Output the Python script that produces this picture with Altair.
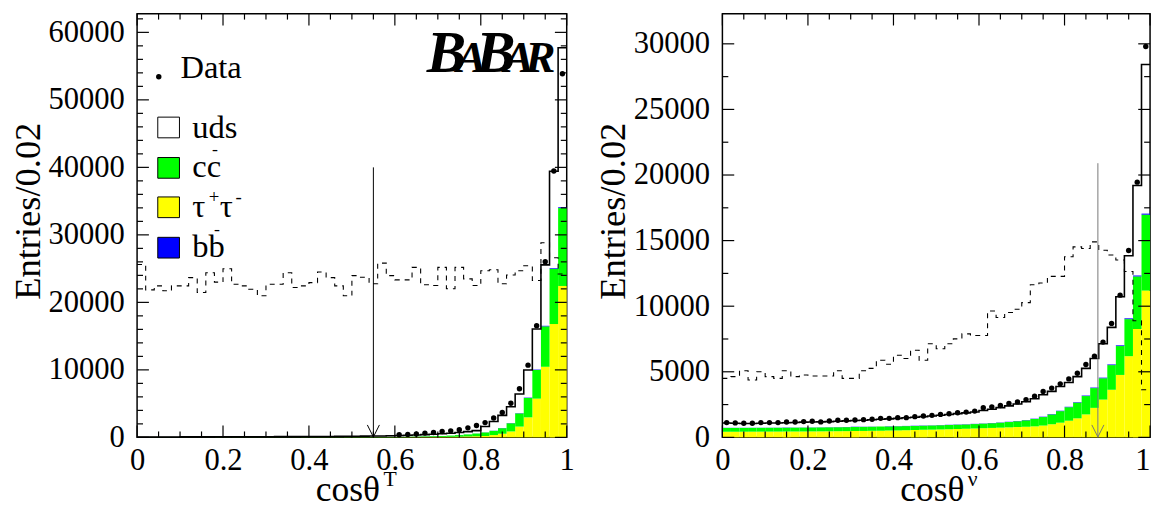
import altair as alt
import numpy as np
import pandas as pd

EDGES = [round(0.02 * i, 2) for i in range(51)]

# ---------------- left panel : cos(theta_T) ----------------
L_data = [None] * 30 + [390, 440, 490, 630, 730, 880, 970, 1120, 1410, 1750,
                        2190, 2870, 3700, 5060, 7200, 10700, 16550, 26030, 39460, 53870]
L_tau = [5, 5, 5, 5, 5, 6, 6, 6, 6, 7, 7, 7, 8, 8, 8, 9, 9, 10, 10, 11,
         12, 13, 14, 15, 16, 18, 20, 22, 24, 27, 30, 35, 40, 50, 60, 75, 90, 110, 140, 170,
         200, 340, 540, 880, 1600, 2970, 5740, 10460, 16790, 22430]
L_cc = [8, 8, 8, 9, 9, 9, 10, 10, 10, 11, 11, 12, 12, 13, 13, 14, 15, 15, 16, 17,
        18, 19, 20, 22, 23, 25, 27, 29, 32, 35, 30, 45, 60, 80, 100, 125, 170, 230, 300, 400,
        530, 630, 820, 1210, 1950, 2870, 4240, 5990, 8170, 11540]
L_bb = [1, 1, 1, 1, 1, 1, 1, 1, 1, 1, 1, 1, 1, 1, 1, 2, 2, 2, 2, 2,
        2, 2, 2, 2, 2, 3, 3, 3, 3, 3, 3, 3, 4, 4, 5, 5, 6, 7, 8, 10,
        15, 20, 25, 30, 40, 50, 60, 80, 100, 120]
L_total = [60, 62, 64, 66, 68, 70, 72, 75, 78, 80, 83, 86, 90, 94, 98, 102, 106, 110, 115, 120,
           126, 132, 140, 150, 160, 170, 182, 195, 210, 240, 280, 320, 360, 410, 470, 540, 620, 720, 850, 1000,
           1600, 2340, 3260, 4530, 6420, 9980, 16060, 25550, 39420, 57710]
L_sig = [25600, 21850, 22440, 21710, 22440, 22440, 23660, 21460, 24390, 23000,
         24980, 22680, 22440, 21950, 20980, 22680, 22680, 24390, 22200, 22440,
         22930, 24490, 23660, 22440, 20980, 23960, 23720, 22750, 25810, 23960,
         23330, 23330, 25180, 22600, 22500, 25180, 22020, 25180, 23480, 22500,
         24690, 24840, 22750, 24060, 24690, 25420, 23230, 28830, 26600, 24200]
L_cut = 0.55
L_cut_top = 40000
L_ymax = 62770
L_ymajor = [0, 10000, 20000, 30000, 40000, 50000, 60000]
L_yminor = 2000

# ---------------- right panel : cos(theta_nu) ----------------
R_data = [1127, 1102, 1077, 1077, 1127, 1127, 1127, 1177, 1177, 1202,
          1227, 1180, 1252, 1302, 1302, 1327, 1352, 1377, 1452, 1452,
          1502, 1502, 1578, 1628, 1678, 1753, 1803, 1878, 1928, 2003,
          2254, 2329, 2429, 2579, 2704, 2880, 3130, 3506, 3756, 4082,
          4457, 4883, 5559, 6185, 7262, 8689, 10842, 14248, 19456, 29798]
R_total = [1090, 1080, 1060, 1060, 1080, 1090, 1100, 1120, 1140, 1160,
           1170, 1180, 1200, 1230, 1260, 1280, 1310, 1340, 1380, 1410,
           1450, 1490, 1530, 1580, 1630, 1690, 1750, 1810, 1870, 1940,
           2050, 2150, 2270, 2400, 2550, 2720, 2940, 3255, 3506, 3881,
           4182, 4632, 5258, 6010, 7136, 8388, 10717, 13847, 19206, 28420]
R_tau = [430, 430, 432, 435, 437, 440, 442, 445, 448, 450,
         455, 460, 465, 470, 475, 480, 490, 500, 510, 520,
         530, 545, 560, 575, 590, 605, 620, 640, 660, 680,
         700, 720, 740, 765, 790, 810, 840, 900, 1000, 1120,
         1270, 1450, 1750, 2250, 2880, 3630, 4760, 6190, 8260, 11190]
R_cc = [290, 290, 290, 290, 290, 290, 290, 290, 292, 295,
        295, 297, 300, 302, 305, 310, 310, 310, 310, 312,
        315, 315, 315, 315, 315, 320, 325, 325, 330, 335,
        345, 360, 380, 405, 440, 490, 560, 650, 750, 880,
        1030, 1200, 1400, 1506, 1627, 1879, 2201, 2824, 4010, 5787]
R_bb = [10, 10, 10, 10, 10, 10, 10, 10, 10, 10,
        11, 11, 11, 11, 11, 12, 12, 12, 12, 12,
        13, 13, 13, 14, 14, 14, 15, 15, 15, 16,
        16, 17, 18, 19, 20, 22, 24, 26, 28, 30,
        32, 35, 38, 40, 45, 50, 55, 60, 70, 80]
R_sig = [4500, 4630, 5080, 4380, 5000, 4630, 4500, 5080, 4630, 4760,
         4680, 4680, 4680, 5080, 4500, 4500, 5080, 5260, 5880, 5580,
         6260, 6010, 6640, 5880, 7140, 6760, 7140, 7510, 7890, 7760,
         7760, 9640, 9140, 9520, 9770, 10270, 11640, 11770, 12270, 12270,
         13770, 14520, 14400, 14900, 14270, 13900, 13520, 12650, 8890, 3630]
R_cut = 0.878
R_cut_top = 20900
R_ymax = 32300
R_ymajor = [0, 5000, 10000, 15000, 20000, 25000, 30000]
R_yminor = 2500

X_major = [0, 0.2, 0.4, 0.6, 0.8, 1]
X_minor = 0.05

COLORS = {"tau": "#ffff00", "cc": "#00ff00", "bb": "#0000ff", "uds": "#ffffff"}

FONT = "Liberation Serif"
H = 430
W_L, W_R = 436, 434
ONE = pd.DataFrame({"a": [0]})


def px_text(txt, x, y, size, align="left", weight="normal", style="normal", color="black"):
    return alt.Chart(ONE).mark_text(text=txt, font=FONT, fontSize=size, align=align,
                                    baseline="alphabetic", fontWeight=weight,
                                    fontStyle=style, color=color).encode(
        x=alt.value(x), y=alt.value(y))


def panel(tau, cc, bb, total, data, sig, ymax, ymajor, yminor, cut, cut_top,
          cut_color, W, sup, legend, last_label_right=False):
    xs = alt.Scale(domain=[0, 1], nice=False, zero=False)
    ys = alt.Scale(domain=[0, ymax], nice=False)
    xaxis_kw = dict(values=X_major, format="~g", ticks=False, domain=False, grid=False,
                    labelFont=FONT, labelFontSize=31, labelColor="black", labelPadding=9,
                    labelFlush=False, labelOverlap=False, title=None)
    if last_label_right:
        xaxis_kw["labelAlign"] = {"condition": {"test": "datum.value == 1", "value": "right"},
                                  "value": "center"}
    xaxis = alt.Axis(**xaxis_kw)
    yaxis = alt.Axis(values=ymajor, format="d", ticks=False, domain=False, grid=False,
                     labelFont=FONT, labelFontSize=31, labelColor="black", labelPadding=13,
                     labelFlush=False, labelOverlap=False, title="Entries/0.02",
                     titleFont=FONT, titleFontSize=37, titleFontWeight="normal",
                     titleColor="black", titlePadding=1, titleY=200)

    def X(f):
        return alt.X(f, type="quantitative", scale=xs, axis=xaxis)

    def Y(f):
        return alt.Y(f, type="quantitative", scale=ys, axis=yaxis)

    lo, hi = EDGES[:-1], EDGES[1:]
    t = np.array(tau, float)
    c = np.array(cc, float)
    b = np.array(bb, float)
    bins = pd.DataFrame({"lo": lo, "hi": hi, "z": 0.0, "t1": t, "c1": t + c, "b1": t + c + b})
    steps = pd.DataFrame({"x": EDGES, "tot": list(total) + [total[-1]],
                          "sig": list(sig) + [sig[-1]]})
    pts = pd.DataFrame({"c": [(l + h) / 2 for l, h in zip(lo, hi)], "d": data}).dropna()
    cutdf = pd.DataFrame({"x": [cut], "y0": [0], "y1": [cut_top]})

    layers = [
        alt.Chart(bins).mark_rect(color=COLORS["tau"]).encode(x=X("lo"), x2="hi", y=Y("z"), y2="t1"),
        alt.Chart(bins).mark_rect(color=COLORS["cc"]).encode(x=X("lo"), x2="hi", y=Y("t1"), y2="c1"),
        alt.Chart(bins).mark_rect(color=COLORS["bb"]).encode(x=X("lo"), x2="hi", y=Y("c1"), y2="b1"),
        alt.Chart(steps).mark_line(interpolate="step-after", color="black", strokeWidth=1.1,
                                   strokeDash=[5, 5]).encode(x=X("x"), y=Y("sig")),
        alt.Chart(steps).mark_line(interpolate="step-after", color="black", strokeWidth=1.6).encode(
            x=X("x"), y=Y("tot")),
        alt.Chart(pts).mark_circle(size=30, color="black", opacity=1).encode(x=X("c"), y=Y("d")),
        alt.Chart(cutdf).mark_rule(color=cut_color, strokeWidth=1).encode(x=X("x"), y=Y("y0"), y2="y1"),
        alt.Chart(cutdf).mark_point(shape="M -1 -1 L 0 1 L 1 -1", filled=False, size=150,
                                    strokeWidth=1, color=cut_color, yOffset=-6.5, opacity=1).encode(
            x=X("x"), y=Y("y0")),
    ]

    # inward ticks on all four sides
    xmaj = pd.DataFrame({"t": X_major})
    xmin = pd.DataFrame({"t": [v for v in np.round(np.arange(0, 1.0001, X_minor), 2)
                               if v not in X_major]})
    ymaj = pd.DataFrame({"t": ymajor})
    ymin = pd.DataFrame({"t": [v for v in np.arange(0, ymax, yminor) if v not in ymajor]})
    for df, ln in ((xmaj, 12), (xmin, 6)):
        layers.append(alt.Chart(df).mark_rule(color="black", strokeWidth=1.2).encode(
            x=X("t"), y=alt.value(H), y2=alt.value(H - ln)))
        layers.append(alt.Chart(df).mark_rule(color="black", strokeWidth=1.2).encode(
            x=X("t"), y=alt.value(0), y2=alt.value(ln)))
    for df, ln in ((ymaj, 12), (ymin, 6)):
        layers.append(alt.Chart(df).mark_rule(color="black", strokeWidth=1.2).encode(
            y=Y("t"), x=alt.value(0), x2=alt.value(ln)))
        layers.append(alt.Chart(df).mark_rule(color="black", strokeWidth=1.2).encode(
            y=Y("t"), x=alt.value(W), x2=alt.value(W - ln)))

    # x-axis title with superscript
    cx = W / 2
    layers.append(px_text("cosθ", cx - 4, H + 65, 36, align="center"))
    layers.append(px_text(sup, cx + 32, H + 49, 22, align="left"))

    layers.extend(legend)
    return alt.layer(*layers).properties(width=W, height=H)


# legend and logo of the left panel (pixel offsets from the plot's top-left corner)
OX, OY = 136, 8


def lx(v):
    return v - OX


def ly(v):
    return v - OY


legend_layers = [
    alt.Chart(ONE).mark_circle(size=30, color="black", opacity=1).encode(
        x=alt.value(lx(158)), y=alt.value(ly(72))),
    px_text("Data", lx(180), ly(73), 33),
]
box_tops = [113, 154, 194, 235]
box_cols = [COLORS["uds"], COLORS["cc"], COLORS["tau"], COLORS["bb"]]
for top, col in zip(box_tops, box_cols):
    legend_layers.append(alt.Chart(ONE).mark_rect(color=col, stroke="black", strokeWidth=1).encode(
        x=alt.value(lx(157)), x2=alt.value(lx(179)), y=alt.value(ly(top)), y2=alt.value(ly(top + 21))))
legend_layers += [
    px_text("uds", lx(192), ly(134), 33),
    px_text("cc", lx(192), ly(174), 33),
    px_text("-", lx(215), ly(151), 18, align="center"),
    px_text("τ", lx(192), ly(214), 33),
    px_text("+", lx(214), ly(200), 19, align="center"),
    px_text("τ", lx(220), ly(214), 33),
    px_text("-", lx(239), ly(200), 19, align="center"),
    px_text("bb", lx(192), ly(255), 33),
    px_text("-", lx(217), ly(233), 18, align="center"),
    # BABAR logo
    px_text("B", lx(430), ly(67), 60, weight="bold", style="italic"),
    px_text("A", lx(460), ly(67), 46, weight="bold", style="italic"),
    px_text("B", lx(480), ly(67), 60, weight="bold", style="italic"),
    px_text("A", lx(508), ly(67), 46, weight="bold", style="italic"),
    px_text("R", lx(530), ly(67), 46, weight="bold", style="italic"),
]

left = panel(L_tau, L_cc, L_bb, L_total, L_data, L_sig, L_ymax, L_ymajor, L_yminor,
             L_cut, L_cut_top, "black", W_L, "T", legend_layers)
right = panel(R_tau, R_cc, R_bb, R_total, R_data, R_sig, R_ymax, R_ymajor, R_yminor,
              R_cut, R_cut_top, "#777777", W_R, "ν", [], last_label_right=True)

chart = alt.hconcat(left, right, spacing=18).configure_view(
    stroke="black", strokeWidth=1.5).properties(
    padding={"left": 0, "top": 0, "right": 0, "bottom": 0})

chart.save("out.html", embed_options={"renderer": "svg", "actions": False})
